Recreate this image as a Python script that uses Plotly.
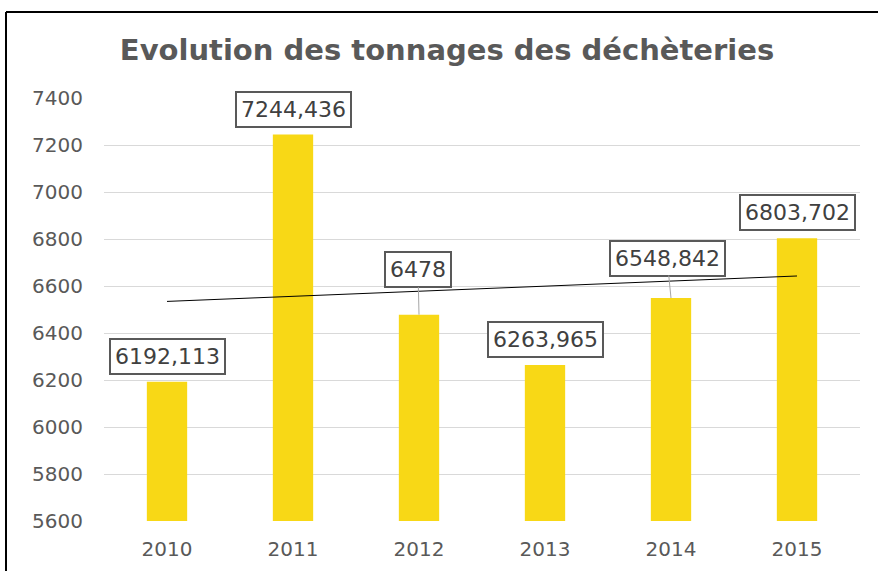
import numpy as np
import plotly.graph_objects as go

years = ["2010", "2011", "2012", "2013", "2014", "2015"]
tonnages = [6192.113, 7244.436, 6478, 6263.965, 6548.842, 6803.702]
title_text = "Evolution des tonnages des déchèteries"
y_ticks = [5600, 5800, 6000, 6200, 6400, 6600, 6800, 7000, 7200, 7400]

# label placement: (ax px, ay px) for leader-line labels, None -> directly above bar
label_offsets = [None, None, (-1, -45), None, (-4, -40), None]

def fr(v):
    return ("%.3f" % v).rstrip("0").rstrip(".").replace(".", ",")

# linear trendline (least squares, like Excel)
xi = np.arange(len(years))
slope, intercept = np.polyfit(xi, np.array(tonnages, dtype=float), 1)
trend = [float(intercept + slope * i) for i in xi]

FONT = "DejaVu Sans"
fig = go.Figure()
fig.add_trace(go.Bar(x=years, y=tonnages, marker=dict(color="#F8D816", line=dict(width=0)),
                     hoverinfo="skip"))
fig.add_trace(go.Scatter(x=years, y=trend, mode="lines",
                         line=dict(color="#000000", width=1), hoverinfo="skip"))

annotations = []
for i, (v, off) in enumerate(zip(tonnages, label_offsets)):
    base = dict(x=i, y=v, xref="x", yref="y", text=fr(v),
                font=dict(family=FONT, size=22, color="#404040"),
                bgcolor="#FFFFFF", bordercolor="#595959", borderwidth=2, borderpad=4)
    if off is None:
        base.update(showarrow=False, yanchor="bottom", yshift=7)
    else:
        base.update(showarrow=True, ax=off[0], ay=off[1], arrowhead=0,
                    arrowwidth=1, arrowcolor="#A6A6A6")
    annotations.append(base)

L, R, T, B = 104, 18, 98, 50
W, H = 878, 571
pw, ph = W - L - R, H - T - B
bx = (6 - L) / pw
by = (H - B - 12) / ph

fig.update_layout(
    width=W, height=H,
    margin=dict(l=L, r=R, t=T, b=B, pad=0, autoexpand=False),
    paper_bgcolor="#FFFFFF", plot_bgcolor="#FFFFFF",
    showlegend=False,
    bargap=0.68,
    hovermode=False,
    title=dict(text="<b>" + title_text + "</b>", x=447 / W, xref="container", xanchor="center",
               y=1 - 50 / H, yref="container", yanchor="middle",
               font=dict(family=FONT, size=29, color="#595959")),
    annotations=annotations,
    shapes=[
        dict(type="line", xref="paper", yref="paper", x0=bx, x1=bx, y0=-0.3, y1=by,
             line=dict(color="#000000", width=2)),
        dict(type="line", xref="paper", yref="paper", x0=bx, x1=1.3, y0=by, y1=by,
             line=dict(color="#000000", width=2)),
    ],
)
fig.update_xaxes(type="category", range=[-0.5, len(years) - 0.5], autorange=False,
                 automargin=False,
                 showgrid=False, showline=False, zeroline=False,
                 tickfont=dict(family=FONT, size=20, color="#595959"), ticks="",
                 ticklabelstandoff=14)
fig.update_yaxes(range=[5600, 7400], autorange=False, tickvals=y_ticks, tickformat="d",
                 automargin=False,
                 showgrid=True, gridcolor="#D9D9D9", gridwidth=1, zeroline=False,
                 showline=False, ticks="",
                 tickfont=dict(family=FONT, size=20, color="#595959"),
                 ticklabelstandoff=20)

fig.write_html("out.html", config={"displayModeBar": False, "staticPlot": True},
               post_script="document.body.style.margin='0';")
